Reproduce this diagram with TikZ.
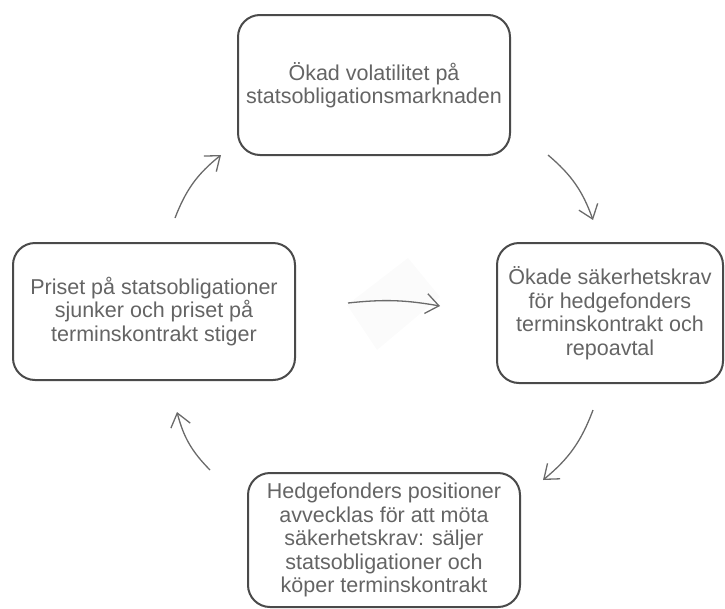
\documentclass[tikz,border=0pt]{standalone}
\usepackage{fontspec}
\setmainfont{Liberation Sans}
\usetikzlibrary{arrows.meta}
\definecolor{boxline}{HTML}{4A4A4A}
\definecolor{txt}{HTML}{646464}
\definecolor{arr}{HTML}{6A6A6A}
\definecolor{faint}{HTML}{FBFBFB}
\begin{document}
\begin{tikzpicture}[x=1pt,y=1pt,
  cbox/.style={draw=boxline,line width=2pt,rounded corners=22pt,text=txt,
    align=center,inner sep=0pt,
    font=\fontsize{21.5}{23.5}\selectfont},
  cyc/.style={draw=arr,line width=1.3pt,-{Straight Barb[length=13pt,width=20pt,line width=1.3pt]}}]
\useasboundingbox (0,0) rectangle (725,-608);
% faint background diamond
\fill[faint] (408,-258) -- (440,-297) -- (377,-350) -- (347,-305) -- cycle;
\node[cbox,minimum width=272pt,minimum height=140pt] (top) at (374,-85)
  {Ökad volatilitet på\\statsobligationsmarknaden};
\node[cbox,minimum width=226pt,minimum height=140pt] (right) at (610,-313)
  {Ökade säkerhetskrav\\för hedgefonders\\terminskontrakt och\\repoavtal};
\node[cbox,minimum width=282pt,minimum height=137pt] (left) at (154,-311.5)
  {Priset på statsobligationer\\sjunker och priset på\\terminskontrakt stiger};
\node[cbox,minimum width=272pt,minimum height=134pt] (bottom) at (384,-540)
  {Hedgefonders positioner\\avvecklas för att möta\\säkerhetskrav: säljer\\statsobligationer och\\köper terminskontrakt};
\coordinate (a1s) at (175,-218); \coordinate (a1e) at (221,-155);
\coordinate (a2s) at (548,-155); \coordinate (a2e) at (593,-220);
\coordinate (a3s) at (593,-410); \coordinate (a3e) at (543,-480);
\coordinate (a4s) at (210,-470); \coordinate (a4e) at (177,-412);
\coordinate (a5s) at (348,-303); \coordinate (a5e) at (440,-306);
\draw[cyc] (a1s) to[bend left=15] (a1e);
\draw[cyc] (a2s) to[bend left=15] (a2e);
\draw[cyc] (a3s) to[bend left=15] (a3e);
\draw[cyc] (a4s) to[bend left=15] (a4e);
\draw[cyc] (a5s) to[bend left=8] (a5e);
\end{tikzpicture}
\end{document}
